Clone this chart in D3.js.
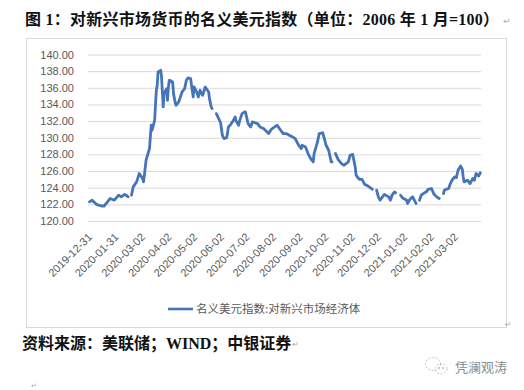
<!DOCTYPE html>
<html>
<head>
<meta charset="utf-8">
<script src="https://cdn.jsdelivr.net/npm/d3@7"></script>
<style>
  body { margin: 0; background: #fff; }
  svg { display: block; }
</style>
</head>
<body>
<div id="chart"></div>
<script>
// Values (null = gap in the source series)
const dates = [
  "2019-12-31","2020-01-03","2020-01-08","2020-01-14","2020-01-17","2020-01-21","2020-01-24","2020-01-29",
  "2020-02-03","2020-02-06","2020-02-10","2020-02-13","2020-02-14","2020-02-17","2020-02-18","2020-02-20",
  "2020-02-24","2020-02-27","2020-03-02","2020-03-03","2020-03-04","2020-03-05","2020-03-06","2020-03-10",
  "2020-03-11","2020-03-12","2020-03-13","2020-03-16","2020-03-17","2020-03-18","2020-03-19","2020-03-20",
  "2020-03-23","2020-03-24","2020-03-25","2020-03-26","2020-03-27","2020-03-30","2020-03-31","2020-04-01",
  "2020-04-02","2020-04-03","2020-04-06","2020-04-07","2020-04-09","2020-04-10","2020-04-13","2020-04-15",
  "2020-04-17","2020-04-20","2020-04-22","2020-04-24","2020-04-27","2020-04-28","2020-04-30","2020-05-01",
  "2020-05-04","2020-05-06","2020-05-08","2020-05-11","2020-05-14","2020-05-18","2020-05-19","2020-05-21",
  "2020-05-22","2020-05-25","2020-05-27","2020-06-01","2020-06-03","2020-06-05","2020-06-08","2020-06-09",
  "2020-06-10","2020-06-12","2020-06-16","2020-06-18","2020-06-19","2020-06-22","2020-06-23","2020-06-26",
  "2020-06-29","2020-06-30","2020-07-03","2020-07-06","2020-07-08","2020-07-14","2020-07-17","2020-07-21",
  "2020-07-24","2020-07-27","2020-07-30","2020-08-03","2020-08-06","2020-08-10","2020-08-13","2020-08-17",
  "2020-08-20","2020-08-24","2020-08-27","2020-08-31","2020-09-03","2020-09-04","2020-09-08","2020-09-11",
  "2020-09-14","2020-09-17","2020-09-18","2020-09-22","2020-09-24","2020-09-28","2020-09-30","2020-10-02",
  "2020-10-05","2020-10-08","2020-10-09","2020-10-12","2020-10-13","2020-10-16","2020-10-20","2020-10-23",
  "2020-10-28","2020-10-30","2020-11-02","2020-11-05","2020-11-06","2020-11-09","2020-11-10","2020-11-13",
  "2020-11-16","2020-11-20","2020-11-24","2020-11-25","2020-11-26","2020-11-30","2020-12-02","2020-12-04",
  "2020-12-09","2020-12-14","2020-12-16","2020-12-18","2020-12-21","2020-12-22","2020-12-24","2020-12-28",
  "2020-12-30","2021-01-04","2021-01-05","2021-01-08","2021-01-11","2021-01-13","2021-01-15","2021-01-18",
  "2021-01-19","2021-01-21","2021-01-25","2021-01-27","2021-01-29","2021-02-02","2021-02-05","2021-02-08",
  "2021-02-11","2021-02-15","2021-02-16","2021-02-17","2021-02-19","2021-02-22","2021-02-24","2021-02-26",
  "2021-03-01","2021-03-03","2021-03-05","2021-03-08","2021-03-10","2021-03-11","2021-03-12","2021-03-16",
  "2021-03-19","2021-03-22","2021-03-24","2021-03-25","2021-03-26","2021-03-29","2021-03-31"
];
const values = [
  122.3,122.5,122.0,121.8,121.8,122.3,122.7,122.5,
  123.1,122.9,123.2,123.0,122.9,null,123.1,124.1,
  124.7,125.7,125.1,124.7,125.5,126.4,127.3,128.7,
  130.1,131.5,130.9,132.1,134.0,135.7,136.3,137.9,
  138.1,137.4,135.5,133.7,135.3,135.9,134.5,136.0,
  136.9,136.9,136.7,135.3,134.2,133.9,134.3,134.9,
  135.5,135.9,136.9,137.2,137.1,136.3,134.9,136.1,
  135.5,134.9,135.7,135.1,136.1,135.5,134.7,133.7,
  133.5,null,132.9,131.8,130.3,129.9,130.0,130.5,
  131.3,131.5,132.1,132.5,132.0,131.5,132.0,132.9,
  133.1,133.1,131.7,131.3,131.9,131.7,131.3,131.1,
  130.8,130.5,131.0,131.3,131.5,130.9,130.5,130.5,
  130.3,130.1,129.9,129.1,128.7,129.1,128.9,128.1,
  127.5,127.1,128.1,129.5,130.5,130.6,129.9,129.1,
  128.5,127.1,127.1,null,128.1,127.4,126.9,126.7,
  127.1,127.9,128.0,126.5,125.5,125.1,125.0,125.0,
  124.4,124.2,123.9,123.8,null,123.7,122.9,122.5,
  123.2,122.9,122.5,123.1,123.5,123.4,null,123.1,
  122.8,122.5,122.1,122.6,122.9,122.5,122.1,null,
  122.5,123.1,123.4,123.5,123.8,123.9,123.2,122.9,
  122.7,null,123.3,123.7,123.8,123.9,124.5,124.9,
  125.3,125.2,126.1,126.6,126.2,125.3,124.7,124.9,
  124.5,125.1,124.9,125.3,125.7,125.4,125.8
];
const yTicks = [120, 122, 124, 126, 128, 130, 132, 134, 136, 138, 140];
const xTickLabels = [
  "2019-12-31","2020-01-31","2020-03-02","2020-04-02","2020-05-02","2020-06-02","2020-07-02",
  "2020-08-02","2020-09-02","2020-10-02","2020-11-02","2020-12-02","2021-01-02","2021-02-02","2021-03-02"
];
const seriesName = "名义美元指数:对新兴市场经济体";
const title = "图 1：对新兴市场货币的名义美元指数（单位：2006 年 1 月=100）";
const source = "资料来源：美联储；WIND；中银证券";

const W = 524, H = 390;
const plot = { left: 88, right: 481, top: 54.5, bottom: 221 };
const lineColor = "#4674b8";
const textGrey = "#595959";
const gridGrey = "#d9d9d9";

const parse = d3.utcParse("%Y-%m-%d");
const data = dates.map((d, i) => ({ date: parse(d), value: values[i] }));

const svg = d3.select("#chart").append("svg")
  .attr("width", W)
  .attr("height", H);

svg.append("rect").attr("width", W).attr("height", H).attr("fill", "#fff");

// Title
svg.append("text")
  .attr("x", 25).attr("y", 25)
  .attr("font-family", "'Liberation Serif', 'Noto Sans CJK SC', serif")
  .attr("font-weight", "bold")
  .attr("font-size", 16)
  .attr("fill", "#111")
  .attr("textLength", 474)
  .attr("lengthAdjust", "spacing")
  .text(title);
svg.append("text")
  .attr("x", 503).attr("y", 24)
  .attr("font-family", "DejaVu Sans").attr("font-size", 9).attr("fill", "#aaa")
  .text("↵");

// Chart frame
svg.append("rect")
  .attr("x", 26.5).attr("y", 38.5)
  .attr("width", 480).attr("height", 289)
  .attr("fill", "none")
  .attr("stroke", gridGrey);

// Scales
const x = d3.scaleUtc()
  .domain([parse("2019-12-31"), parse("2021-03-02")])
  .range([89.5, 455.5]);

const y = d3.scaleLinear()
  .domain([120, 140])
  .range([plot.bottom, plot.top]);

// Y axis with gridlines
const yAxis = svg.append("g")
  .attr("transform", `translate(${plot.left},0)`)
  .call(d3.axisLeft(y)
    .tickValues(yTicks)
    .tickFormat(d3.format(".2f"))
    .tickSize(-(plot.right - plot.left))
    .tickPadding(14));
yAxis.select(".domain").remove();
yAxis.selectAll(".tick line").attr("stroke", gridGrey);
yAxis.selectAll(".tick text")
  .attr("font-family", "'Liberation Sans', Arial, sans-serif")
  .attr("font-size", 11)
  .attr("fill", textGrey);

// X axis, rotated date labels
const xAxis = svg.append("g")
  .attr("transform", `translate(0,${plot.bottom})`)
  .call(d3.axisBottom(x)
    .tickValues(xTickLabels.map(parse))
    .tickFormat(d3.utcFormat("%Y-%m-%d"))
    .tickSize(0));
xAxis.select(".domain").remove();
xAxis.selectAll(".tick text")
  .attr("font-family", "'Liberation Sans', Arial, sans-serif")
  .attr("font-size", 11)
  .attr("fill", textGrey)
  .attr("text-anchor", "end")
  .attr("x", 0).attr("y", 0)
  .attr("dy", "0.35em")
  .attr("transform", "translate(0,14) rotate(-45)");

// Series line
const line = d3.line()
  .defined(d => d.value !== null)
  .x(d => x(d.date))
  .y(d => y(d.value));

svg.append("path")
  .datum(data)
  .attr("fill", "none")
  .attr("stroke", lineColor)
  .attr("stroke-width", 2.8)
  .attr("stroke-linejoin", "round")
  .attr("stroke-linecap", "round")
  .attr("d", line);

// Legend
const legend = svg.append("g").attr("transform", "translate(168,309)");
legend.append("line")
  .attr("x1", 0).attr("x2", 25)
  .attr("stroke", lineColor).attr("stroke-width", 2.6);
legend.append("text")
  .attr("x", 28).attr("y", 4)
  .attr("font-family", "'Noto Sans CJK SC', sans-serif")
  .attr("font-size", 11.5)
  .attr("fill", textGrey)
  .text(seriesName);
svg.append("text")
  .attr("x", 505).attr("y", 327)
  .attr("font-family", "DejaVu Sans").attr("font-size", 8).attr("fill", "#aaa")
  .text("↵");

// Source note
const src = svg.append("text")
  .attr("x", 22).attr("y", 348.5)
  .attr("font-family", "'Liberation Serif', 'Noto Sans CJK SC', serif")
  .attr("font-weight", "bold")
  .attr("font-size", 16)
  .attr("fill", "#111")
  .text(source);
const srcEnd = 22 + src.node().getComputedTextLength();
svg.append("text")
  .attr("x", srcEnd + 1).attr("y", 347)
  .attr("font-family", "DejaVu Sans").attr("font-size", 8).attr("fill", "#aaa")
  .text("↵");
svg.append("text")
  .attr("x", 31).attr("y", 388)
  .attr("font-family", "DejaVu Sans").attr("font-size", 7).attr("fill", "#aaa")
  .text("↵");

// Watermark
const wm = svg.append("g").attr("fill", "none").attr("stroke", "#c4c4c4").attr("stroke-width", 1);
wm.append("ellipse").attr("cx", 433).attr("cy", 364).attr("rx", 7.5).attr("ry", 6.5)
  .attr("stroke-dasharray", "2,1.5");
wm.append("ellipse").attr("cx", 441).attr("cy", 369).attr("rx", 6).attr("ry", 5)
  .attr("stroke-dasharray", "2,1.5");
wm.append("circle").attr("cx", 439).attr("cy", 368).attr("r", 0.7).attr("fill", "#c4c4c4");
wm.append("circle").attr("cx", 443).attr("cy", 368).attr("r", 0.7).attr("fill", "#c4c4c4");
svg.append("text")
  .attr("x", 455).attr("y", 372)
  .attr("font-family", "'Noto Sans CJK SC', sans-serif")
  .attr("font-size", 13)
  .attr("fill", "#8c8c8c")
  .text("凭澜观涛");
</script>
</body>
</html>
